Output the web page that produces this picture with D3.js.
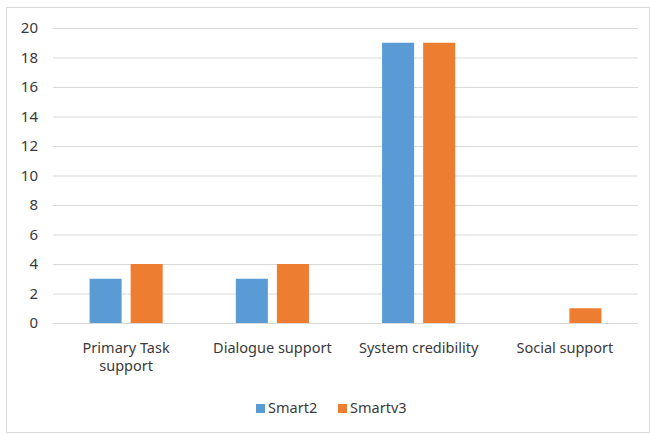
<!DOCTYPE html>
<html>
<head>
<meta charset="utf-8">
<script src="https://cdn.jsdelivr.net/npm/d3@7"></script>
<style>
  body { margin: 0; background: #fff; }
  text { font-family: "Noto Sans", "Open Sans", sans-serif; fill: #3a3a3a; }
</style>
</head>
<body>
<div id="chart"></div>
<script>
// data
const categories = ["Primary Task support", "Dialogue support", "System credibility", "Social support"];
const seriesNames = ["Smart2", "Smartv3"];
const smart2 = [3, 3, 19, 0];
const smartv3 = [4, 4, 19, 1];
const yTickValues = [0, 2, 4, 6, 8, 10, 12, 14, 16, 18, 20];
const colors = ["#5b9bd5", "#ed7d31"];

const width = 650, height = 435;
const plotLeft = 53, plotRight = 638, plotTop = 28, plotBottom = 323;

const svg = d3.select('#chart').append('svg')
    .attr('width', width)
    .attr('height', height);

// outer border
svg.append('rect')
    .attr('x', 6.5).attr('y', 7.5)
    .attr('width', 643).attr('height', 425)
    .attr('fill', 'none')
    .attr('stroke', '#d9d9d9');

const y = d3.scaleLinear().domain([0, 20]).range([plotBottom, plotTop]);
const x0 = d3.scaleBand().domain(categories).range([plotLeft, plotRight]);
const x1 = d3.scaleBand().domain(seriesNames)
    .range([0, x0.bandwidth()])
    .paddingInner(0.22)
    .paddingOuter(0.89);

// gridlines + y labels
const yAxis = d3.axisLeft(y).tickValues(yTickValues).tickSize(-(plotRight - plotLeft)).tickPadding(15);
const gy = svg.append('g')
    .attr('transform', `translate(${plotLeft},0)`)
    .call(yAxis);
gy.select('.domain').remove();
gy.selectAll('.tick line').attr('stroke', '#d9d9d9');
gy.selectAll('.tick text').style('font-size', '15px');

// bars
const rows = categories.map((c, i) => ({ cat: c, vals: [smart2[i], smartv3[i]] }));
const groups = svg.selectAll('g.grp')
    .data(rows)
    .enter().append('g')
        .attr('class', 'grp')
        .attr('transform', d => `translate(${x0(d.cat)},0)`);

groups.selectAll('rect')
    .data(d => d.vals.map((v, k) => ({ name: seriesNames[k], v: v, k: k })))
    .enter().append('rect')
        .attr('x', d => x1(d.name))
        .attr('y', d => y(d.v))
        .attr('width', x1.bandwidth())
        .attr('height', d => y(0) - y(d.v))
        .attr('fill', d => colors[d.k]);

// category labels (wrap first one like Excel)
const wrapped = {
    "Primary Task support": ["Primary Task", "support"]
};
categories.forEach(c => {
    const lines = wrapped[c] || [c];
    const t = svg.append('text')
        .attr('text-anchor', 'middle')
        .style('font-size', '14.5px')
        .attr('x', x0(c) + x0.bandwidth() / 2)
        .attr('y', 353);
    lines.forEach((ln, i) => {
        t.append('tspan')
            .attr('x', x0(c) + x0.bandwidth() / 2)
            .attr('dy', i === 0 ? 0 : 18)
            .text(ln);
    });
});

// legend
const legendX = [256, 338];
seriesNames.forEach((s, i) => {
    svg.append('rect')
        .attr('x', legendX[i]).attr('y', 404)
        .attr('width', 9).attr('height', 9)
        .attr('fill', colors[i]);
    svg.append('text')
        .attr('x', legendX[i] + 12).attr('y', 413)
        .style('font-size', '14.5px')
        .text(s);
});
</script>
</body>
</html>
